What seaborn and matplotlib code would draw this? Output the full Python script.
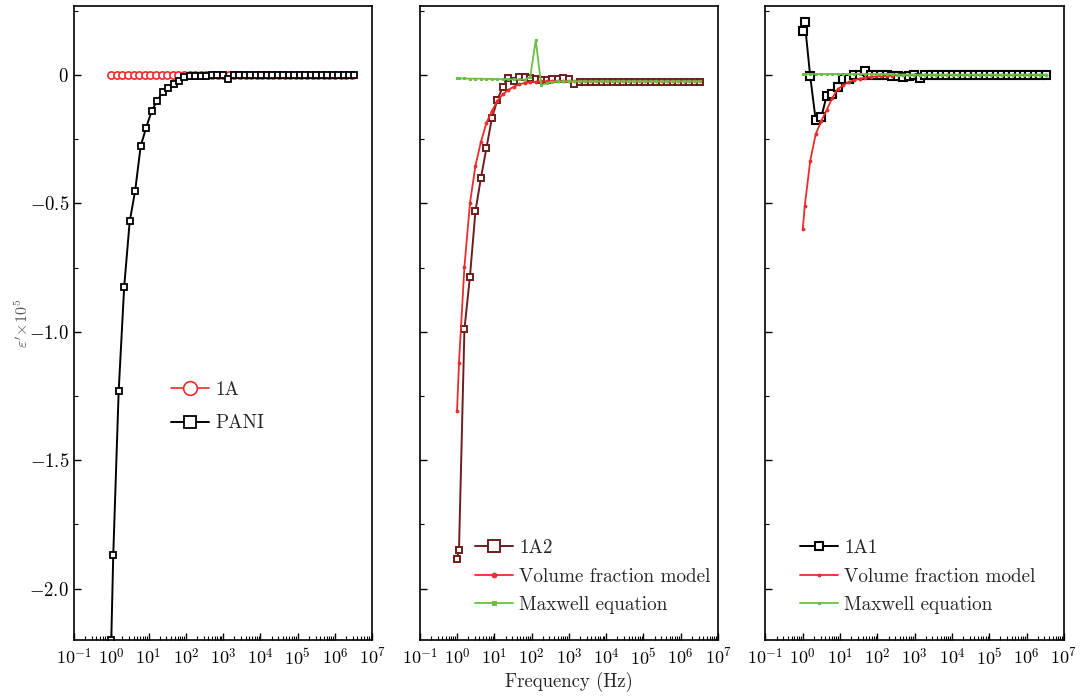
import numpy as np
import matplotlib
matplotlib.use("Agg")
import matplotlib.pyplot as plt
import matplotlib.ticker as mticker
import seaborn as sns

sns.set_style("ticks")
plt.rcParams['font.family'] = 'serif'
plt.rcParams['font.serif'] = ['cmr10', 'DejaVu Serif']
plt.rcParams['mathtext.fontset'] = 'cm'
plt.rcParams['axes.unicode_minus'] = False
plt.rcParams['axes.formatter.use_mathtext'] = True

# Frequency grid (Hz)
freq = [1.0, 1.13, 1.58, 2.22, 3.12, 4.38, 6.14, 8.61, 12.1, 16.9,
        23.8, 33.3, 46.8, 65.6, 92.0, 129, 181, 254, 356, 500,
        702, 984, 1380, 1940, 2720, 3810, 5350, 7500, 10500, 14800,
        20700, 29000, 40700, 57100, 80200, 112000, 158000, 221000, 310000, 436000,
        611000, 857000, 1.2e6, 1.69e6, 2.37e6, 3.32e6]
freq_1a = [1.0, 1.41, 2.0, 2.82, 3.98, 5.62, 7.94, 11.2, 15.8, 22.4,
           31.6, 44.7, 63.1, 89.1, 126, 178, 251, 355, 501, 708,
           1000, 1410, 2000, 2820, 3980, 5620, 7940, 11200, 15800, 22400,
           31600, 44700, 63100, 89100, 126000, 178000, 251000, 355000, 501000, 708000,
           1.0e6, 1.41e6, 2.0e6, 2.82e6]

# epsilon' x 10^5
eps_1a = [0.0, 0.0, 0.0, 0.0, 0.0, 0.0, 0.0, 0.0, 0.0, 0.0,
          0.0, 0.0, 0.0, 0.0, 0.0, 0.0, 0.0, 0.0, 0.0, 0.0,
          0.0, 0.0, 0.0, 0.0, 0.0, 0.0, 0.0, 0.0, 0.0, 0.0,
          0.0, 0.0, 0.0, 0.0, 0.0, 0.0, 0.0, 0.0, 0.0, 0.0,
          0.0, 0.0, 0.0, 0.0]
eps_pani = [-2.20, -1.87, -1.23, -0.825, -0.57, -0.45, -0.277, -0.205, -0.14, -0.10,
            -0.067, -0.052, -0.036, -0.022, -0.009, -0.005, -0.004, -0.003, -0.002, -0.001,
            0.0, 0.0, -0.017, 0.0, 0.0, 0.0, 0.0, 0.0, 0.0, 0.0,
            0.0, 0.0, 0.0, 0.0, 0.0, 0.0, 0.0, 0.0, 0.0, 0.0,
            0.0, 0.0, 0.0, 0.0, 0.0, 0.0]

eps_1a2 = [-1.883, -1.848, -0.99, -0.785, -0.53, -0.40, -0.285, -0.168, -0.097, -0.045,
           -0.013, -0.022, -0.007, -0.007, -0.012, -0.016, -0.018, -0.018, -0.016, -0.014,
           -0.013, -0.014, -0.036, -0.026, -0.026, -0.026, -0.026, -0.026, -0.026, -0.026,
           -0.026, -0.026, -0.026, -0.026, -0.026, -0.026, -0.026, -0.026, -0.026, -0.026,
           -0.026, -0.026, -0.026, -0.026, -0.026, -0.026]
vfm_1a2 = [-1.31, -1.12, -0.746, -0.50, -0.353, -0.26, -0.186, -0.14, -0.10, -0.075,
           -0.058, -0.045, -0.036, -0.031, -0.028, -0.026, -0.025, -0.024, -0.024, -0.024,
           -0.024, -0.024, -0.024, -0.024, -0.024, -0.024, -0.024, -0.024, -0.024, -0.024,
           -0.024, -0.024, -0.024, -0.024, -0.024, -0.024, -0.024, -0.024, -0.024, -0.024,
           -0.024, -0.024, -0.024, -0.024, -0.024, -0.024]
max_1a2 = [-0.013, -0.013, -0.013, -0.014, -0.014, -0.014, -0.015, -0.015, -0.016, -0.016,
           -0.016, -0.017, -0.017, -0.018, -0.007, 0.136, -0.039, -0.032, -0.026, -0.025,
           -0.025, -0.025, -0.025, -0.025, -0.025, -0.025, -0.025, -0.025, -0.025, -0.025,
           -0.025, -0.025, -0.025, -0.025, -0.025, -0.025, -0.025, -0.025, -0.025, -0.025,
           -0.025, -0.025, -0.025, -0.025, -0.025, -0.025]

eps_1a1 = [0.172, 0.206, -0.004, -0.175, -0.165, -0.08, -0.074, -0.045, -0.017, -0.016,
           0.0, 0.0, 0.017, 0.0, 0.0, 0.0, 0.0, -0.002, -0.004, -0.006,
           -0.002, 0.0, -0.010, 0.0, 0.0, 0.0, 0.0, 0.0, 0.0, 0.0,
           0.0, 0.0, 0.0, 0.0, 0.0, 0.0, 0.0, 0.0, 0.0, 0.0,
           0.0, 0.0, 0.0, 0.0, 0.0, 0.0]
vfm_1a1 = [-0.60, -0.51, -0.335, -0.23, -0.18, -0.136, -0.09, -0.055, -0.04, -0.027,
           -0.02, -0.014, -0.010, -0.007, -0.005, -0.004, -0.003, -0.002, -0.001, -0.001,
           0.0, 0.0, 0.0, 0.0, 0.0, 0.0, 0.0, 0.0, 0.0, 0.0,
           0.0, 0.0, 0.0, 0.0, 0.0, 0.0, 0.0, 0.0, 0.0, 0.0,
           0.0, 0.0, 0.0, 0.0, 0.0, 0.0]
max_1a1 = [0.004, 0.004, 0.004, 0.004, 0.004, 0.004, 0.004, 0.004, 0.004, 0.004,
           0.004, 0.004, 0.004, 0.004, 0.004, 0.004, 0.004, 0.003, 0.002, 0.002,
           0.002, 0.002, 0.002, 0.002, 0.002, 0.002, 0.002, 0.002, 0.002, 0.002,
           0.002, 0.002, 0.002, 0.002, 0.002, 0.002, 0.002, 0.002, 0.002, 0.002,
           0.002, 0.002, 0.002, 0.002, 0.002, 0.002]

red = '#ec2b2b'
maroon = '#6e1d1d'
green = '#6abf45'

fig, axes = plt.subplots(1, 3, figsize=(10.8, 6.96), dpi=100, sharey=True)
fig.subplots_adjust(left=0.0685, right=0.985, bottom=0.0805, top=0.991, wspace=0.159)
ax1, ax2, ax3 = axes

# Panel 1
sns.lineplot(x=freq_1a, y=eps_1a, ax=ax1, color=red, marker='o', ms=5.2, mfc='white',
             mec=red, mew=1.2, lw=1.2, label='1A', estimator=None, sort=False)
sns.lineplot(x=freq, y=eps_pani, ax=ax1, color='black', marker='s', ms=4.6, mfc='white',
             mec='black', mew=1.3, lw=1.4, label='PANI', estimator=None, sort=False)

# Panel 2
sns.lineplot(x=freq, y=eps_1a2, ax=ax2, color=maroon, marker='s', ms=4.8, mfc='white',
             mec=maroon, mew=1.4, lw=1.4, label='1A2', estimator=None, sort=False)
sns.lineplot(x=freq, y=vfm_1a2, ax=ax2, color=red, marker='o', ms=2, mec=red,
             lw=1.3, label='Volume fraction model', estimator=None, sort=False)
sns.lineplot(x=freq, y=max_1a2, ax=ax2, color=green, marker='s', ms=2, mec=green,
             lw=1.3, label='Maxwell equation', estimator=None, sort=False)

# Panel 3
sns.lineplot(x=freq, y=eps_1a1, ax=ax3, color='black', marker='s', ms=5.5, mfc='white',
             mec='black', mew=1.5, lw=1.4, label='1A1', estimator=None, sort=False)
sns.lineplot(x=freq, y=vfm_1a1, ax=ax3, color=red, marker='o', ms=2, mec=red,
             lw=1.3, label='Volume fraction model', estimator=None, sort=False)
sns.lineplot(x=freq, y=max_1a1, ax=ax3, color=green, marker='s', ms=2, mec=green,
             lw=1.3, label='Maxwell equation', estimator=None, sort=False)

for i, ax in enumerate(axes):
    ax.set_xscale('log')
    ax.set_xlim(1e-1, 1e7)
    ax.set_ylim(-2.2, 0.268)
    ax.xaxis.set_major_locator(mticker.LogLocator(base=10, numticks=20))
    ax.xaxis.set_minor_locator(mticker.LogLocator(base=10, subs=np.arange(2, 10), numticks=20))
    ax.xaxis.set_major_formatter(mticker.FuncFormatter(lambda v, p: r'$10^{%d}$' % round(np.log10(v))))
    ax.xaxis.set_minor_formatter(mticker.NullFormatter())
    ax.yaxis.set_major_locator(mticker.FixedLocator([-2.0, -1.5, -1.0, -0.5, 0.0]))
    ax.yaxis.set_minor_locator(mticker.MultipleLocator(0.25))
    ax.yaxis.set_major_formatter(mticker.FuncFormatter(
        lambda v, p: r'$0$' if abs(v) < 1e-9 else r'$%.1f$' % v))
    ax.tick_params(which='both', direction='in', top=False, right=False, colors='black')
    ax.tick_params(axis='x', labelsize=13, pad=5)
    ax.tick_params(axis='y', labelsize=13.5)
    ax.tick_params(which='major', length=5, width=1.0)
    ax.tick_params(which='minor', length=3, width=0.8)
    for s in ax.spines.values():
        s.set_visible(True)
        s.set_linewidth(1.2)
        s.set_color('black')
    ax.set_xlabel('')
    ax.set_ylabel('')
    if i > 0:
        ax.tick_params(axis='y', labelleft=False)

ax1.set_ylabel(r"$\varepsilon'\!\times\!10^5$", fontsize=11.5, color='0.35', labelpad=-1)
ax2.set_xlabel('Frequency (Hz)', fontsize=13.5, labelpad=3)

leg_kw = dict(frameon=False, fontsize=13.8, handlelength=2.0, handletextpad=0.3,
              borderaxespad=0)
ax1.legend(loc='center left', bbox_to_anchor=(0.3, 0.368), markerscale=1.9,
           labelspacing=0.8, **leg_kw)
ax2.legend(loc='center left', bbox_to_anchor=(0.16, 0.1), markerscale=1.7,
           labelspacing=0.55, **leg_kw)
ax3.legend(loc='center left', bbox_to_anchor=(0.09, 0.1), markerscale=1.0,
           labelspacing=0.55, **leg_kw)

fig.savefig('out.png', dpi=100)
